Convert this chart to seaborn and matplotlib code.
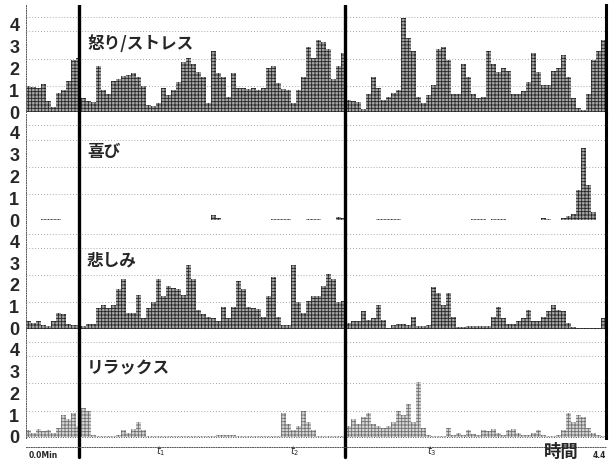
import numpy as np
import pandas as pd
import matplotlib
matplotlib.use("Agg")
import matplotlib.pyplot as plt
import matplotlib.transforms as mtransforms
import seaborn as sns

# time axis in minutes, one bar per sample
t_end = 4.4
n_bins = 116
dt = t_end / n_bins
time_min = np.round(np.arange(n_bins) * dt, 4)

anger = [1.2, 1.15, 1.1, 1.3, 0.5, 0.25, 0.9, 1.0, 1.45, 2.4,
         2.5, 0.65, 0.5, 0.45, 2.1, 1.0, 0.85, 1.45, 1.5, 1.65,
         1.7, 1.8, 1.6, 1.2, 0.35, 0.3, 0.4, 1.1, 0.8, 1.0,
         1.4, 2.3, 2.5, 2.2, 1.85, 1.6, 0.4, 2.8, 1.8, 1.6,
         0.7, 1.8, 1.1, 1.1, 1.05, 1.1, 1.0, 1.1, 2.0, 2.1,
         1.35, 1.05, 1.0, 0.4, 1.0, 1.6, 3.0, 2.5, 3.3, 3.2,
         2.9, 1.5, 2.1, 2.7, 0.55, 0.5, 0.45, 0.15, 0.85, 1.6,
         1.1, 0.55, 0.7, 0.9, 1.0, 4.3, 3.4, 2.8, 0.7, 0.4,
         0.8, 1.25, 2.9, 3.0, 2.4, 0.85, 0.85, 2.2, 1.6, 0.85,
         0.65, 0.7, 2.8, 2.2, 1.85, 2.0, 1.9, 0.85, 0.85, 0.95,
         1.4, 2.7, 1.85, 1.25, 1.25, 1.9, 2.0, 2.6, 1.6, 0.65,
         0.2, 0.1, 0.85, 2.4, 2.8, 3.3]

joy = [0, 0, 0, .05, .05, .05, .05, 0, 0, 0,
       0, 0, 0, 0, 0, 0, 0, 0, 0, 0,
       0, 0, 0, 0, 0, 0, 0, 0, 0, 0,
       0, 0, 0, 0, 0, 0, 0, .25, .1, 0,
       0, 0, 0, 0, 0, 0, 0, 0, 0, .05,
       .05, .05, .05, 0, 0, 0, .05, .05, .05, 0,
       0, 0, .15, .1, 0, 0, 0, 0, 0, 0,
       .05, .05, .05, .05, .05, 0, 0, 0, 0, 0,
       0, 0, 0, 0, 0, 0, 0, 0, 0, .05,
       .05, .05, 0, .05, .05, .05, 0, 0, 0, 0,
       0, 0, 0, .1, .05, 0, 0, .1, .2, .3,
       1.4, 3.3, 1.6, .4, 0, 0]

sadness = [.33, .25, .33, .15, .1, .33, .7, .65, .2, .17,
           .15, .1, .2, .2, .95, 1.1, .95, 1.1, 1.8, 2.25,
           .7, .7, 1.55, .5, .95, 1.2, 2.25, 1.5, 1.95, 1.85,
           1.8, 1.55, 2.9, 2.25, .87, .65, .55, .5, .33, 1.0,
           .5, 1.0, 2.2, 1.8, 1.0, .95, .9, .55, 1.5, 2.35,
           .55, .17, .17, 2.9, 1.2, .7, 1.25, 1.5, 1.5, 1.95,
           2.5, 2.25, 1.2, 1.25, .25, .33, .33, .8, .4, .5,
           1.1, .4, .02, .17, .2, .2, .17, .55, .1, .1,
           .17, 1.9, 1.65, 1.1, 1.65, .55, .06, .06, .1, .12,
           .12, .12, .12, .55, 1.0, .5, .2, .2, .35, .5,
           .87, .33, .33, .55, .8, 1.1, .85, .8, .25, .06,
           .05, .05, .05, .05, .05, .5]

relax = [.3, .2, .35, .25, .3, .2, .4, 1.0, .8, 1.1,
         .5, 1.3, 1.2, .1, .05, .05, .05, .05, .1, .3,
         .2, .35, .7, .3, .03, .03, .03, .03, .03, .03,
         .03, .03, .03, .03, .03, .03, .03, .03, .1, .1,
         .1, .1, .03, .03, .03, .03, .03, .03, .03, .03,
         .05, 1.1, .6, .3, .5, 1.2, .7, .3, .05, .05,
         .05, .05, .05, .05, .5, .8, .6, .9, 1.1, .6,
         .5, .4, .5, .7, 1.2, 1.0, 1.5, .7, 2.5, .4,
         .1, .05, .05, .05, .4, .1, .2, .1, .3, .15,
         .1, .3, .25, .35, .2, .1, .3, .35, .2, .1,
         .1, .2, .3, .1, .05, .05, .1, .3, 1.1, .7,
         1.0, .9, .4, .2, .1, .05]

panel_names = ["怒り/ストレス", "喜び", "悲しみ", "リラックス"]
# stippled look: grey fill with a dense dark hatch
panel_fill = ["#a6a6a6", "#a6a6a6", "#a6a6a6", "#d6d6d6"]
panel_dots = ["#262626", "#262626", "#262626", "#6e6e6e"]
event_times = [0.38, 2.4]
mark_times = [1.0, 2.02, 3.06]
mark_names = ["$t_1$", "$t_2$", "$t_3$"]
grid_levels = [1.2, 2.45, 3.7, 4.35]

sns.set_theme(style="white")
plt.rcParams["font.family"] = ["Noto Sans CJK JP", "DejaVu Sans"]
plt.rcParams["hatch.linewidth"] = 0.6

fig, axes = plt.subplots(4, 1, figsize=(6.1, 4.62), dpi=100, sharex=True)
fig.subplots_adjust(left=0.043, right=0.993, top=0.989, bottom=0.052, hspace=0)

for ax, name, vals, fc, hc in zip(axes, panel_names, [anger, joy, sadness, relax],
                                  panel_fill, panel_dots):
    df = pd.DataFrame({"time": time_min, "value": vals})
    sns.barplot(data=df, x="time", y="value", native_scale=True, width=1.0,
                color=fc, saturation=1, linewidth=0, edgecolor=hc, hatch="+++++",
                errorbar=None, ax=ax)
    ax.set_xlim(-dt / 2, t_end - dt / 2)
    ax.set_ylim(-0.05, 4.9)
    ax.set_xlabel("")
    ax.set_ylabel("")
    ax.set_yticks([0, 1, 2, 3, 4])
    ax.set_yticklabels(["0", "1", "2", "3", "4"], fontweight="bold",
                       fontsize=13, family="Liberation Sans")
    ax.set_yticks(grid_levels, minor=True)
    ax.tick_params(axis="y", which="both", length=0, pad=5)
    ax.grid(False)
    ax.grid(which="minor", axis="y", color="#8c8c8c", lw=0.6, ls=(0, (1, 2.5)))
    ax.set_axisbelow(True)
    ax.spines["top"].set_visible(False)
    ax.spines["left"].set_linestyle((0, (1, 1.5)))
    ax.spines["left"].set_linewidth(0.7)
    ax.spines["left"].set_color("#555555")
    ax.spines["right"].set_linewidth(2.2)
    ax.spines["right"].set_color("black")
    ax.spines["bottom"].set_linestyle((0, (1, 1.5)))
    ax.spines["bottom"].set_linewidth(0.7)
    ax.spines["bottom"].set_color("#555555")
    ax.text(0.105, 0.64, name, transform=ax.transAxes, fontsize=12,
            fontweight="bold", ha="left", va="center")
    for e in event_times:
        ax.axvline(e, color="black", lw=2.4)

bottom = axes[-1]
bottom.axhline(0, color="#555555", lw=0.7, ls=(0, (1, 1.5)))
bottom.spines["bottom"].set_position(("axes", -0.085))
bottom.set_xticks([])
for e in event_times:
    bottom.axvline(e, ymin=-0.18, ymax=0, color="black", lw=2.4, clip_on=False)

trans = mtransforms.blended_transform_factory(bottom.transData, bottom.transAxes)
for tm, lab in zip(mark_times, mark_names):
    bottom.text(tm, -0.12, lab, transform=trans, fontsize=7, ha="center", va="center")
bottom.text(0.004, -0.16, "0.0Min", transform=bottom.transAxes, fontsize=5.5,
            fontweight="bold", ha="left", va="center", family="DejaVu Sans")
bottom.text(0.924, -0.13, "時間", transform=bottom.transAxes, fontsize=12.5,
            fontweight="bold", ha="center", va="center")
bottom.text(1.0, -0.16, "4.4", transform=bottom.transAxes, fontsize=5.5,
            fontweight="bold", ha="right", va="center", family="DejaVu Sans")

fig.savefig("out.png", dpi=100)
